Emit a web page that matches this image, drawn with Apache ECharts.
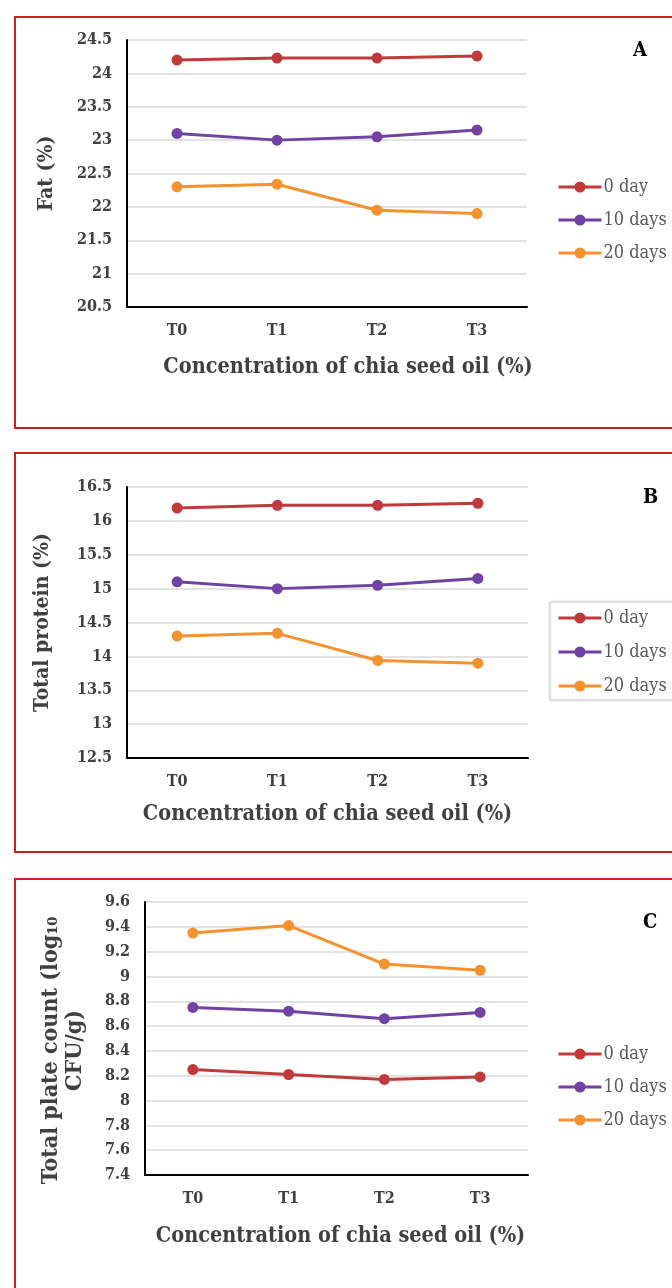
<!DOCTYPE html>
<html>
<head>
<meta charset="utf-8">
<script src="https://cdn.jsdelivr.net/npm/echarts@6/dist/echarts.min.js"></script>
<style>
  html, body { margin: 0; padding: 0; background: #fff; }
  #chart { width: 672px; height: 1288px; }
</style>
</head>
<body>
<div id="chart"></div>
<script>
// categories and legend
const treatments = ["T0", "T1", "T2", "T3"];
const storage = ["0 day", "10 days", "20 days"];

// A - fat (%)
const fat0 = [24.2, 24.23, 24.23, 24.26];
const fat10 = [23.1, 23.0, 23.05, 23.15];
const fat20 = [22.3, 22.34, 21.95, 21.9];

// B - total protein (%)
const protein0 = [16.19, 16.23, 16.23, 16.26];
const protein10 = [15.1, 15.0, 15.05, 15.15];
const protein20 = [14.3, 14.34, 13.94, 13.9];

// C - total plate count (log10 CFU/g)
const tpc0 = [8.25, 8.21, 8.17, 8.19];
const tpc10 = [8.75, 8.72, 8.66, 8.71];
const tpc20 = [9.35, 9.41, 9.1, 9.05];

const colors = ["#c0393b", "#7142a3", "#f3922f"];
const serif = "'DejaVu Serif Condensed', 'Liberation Serif', serif";
const txt = "#404040";

const grids = [
  { left: 127, top: 40, width: 400, height: 267 },
  { left: 127, top: 487, width: 401, height: 271 },
  { left: 145, top: 902, width: 383, height: 273 },
];

const xName = "Concentration of chia seed oil (%)";
const xGaps = [49, 45, 50];
const xNamePad = [[0, 0, 0, 42], [0, 0, 0, 0], [0, 0, 0, 8]];

const xAxes = grids.map((g, i) => ({
  type: "category",
  gridIndex: i,
  data: treatments,
  boundaryGap: true,
  axisLine: { lineStyle: { color: "#000", width: 2 } },
  axisTick: { show: false },
  axisLabel: { margin: 16, fontFamily: serif, fontWeight: "bold", fontSize: 16, color: txt },
  name: xName,
  nameLocation: "middle",
  nameGap: xGaps[i],
  nameTextStyle: { fontFamily: serif, fontWeight: "bold", fontSize: 21.5, color: txt, padding: xNamePad[i] },
}));

const yCommon = {
  type: "value",
  axisLine: { show: true, lineStyle: { color: "#000", width: 2 } },
  axisTick: { show: false },
  splitLine: { lineStyle: { color: "#d9d9d9", width: 1.5 } },
  axisLabel: { margin: 15, fontFamily: serif, fontWeight: "bold", fontSize: 16, color: txt },
  nameLocation: "middle",
  nameRotate: 90,
  nameTextStyle: { fontFamily: serif, fontWeight: "bold", fontSize: 21, color: txt },
};

const yAxes = [
  Object.assign({}, yCommon, { gridIndex: 0, min: 20.5, max: 24.5, interval: 0.5, name: "Fat (%)", nameGap: 70 }),
  Object.assign({}, yCommon, { gridIndex: 1, min: 12.5, max: 16.5, interval: 0.5, name: "Total protein (%)", nameGap: 74 }),
  Object.assign({}, yCommon, {
    gridIndex: 2, min: 7.4, max: 9.6, interval: 0.2, nameGap: 58,
    name: "Total plate count (log\u2081\u2080\nCFU/g)",
    nameTextStyle: {
      fontFamily: serif, fontWeight: "bold", fontSize: 23, color: txt,
      align: "center", lineHeight: 24, padding: [0, 24, 0, 0],
    },
  }),
];

const panelData = [
  [fat0, fat10, fat20],
  [protein0, protein10, protein20],
  [tpc0, tpc10, tpc20],
];

const series = [];
panelData.forEach((sets, i) => {
  sets.forEach((vals, k) => {
    series.push({
      name: storage[k],
      type: "line",
      xAxisIndex: i,
      yAxisIndex: i,
      data: vals,
      symbol: "circle",
      symbolSize: 11,
      lineStyle: { color: colors[k], width: 3 },
      itemStyle: { color: colors[k] },
    });
  });
});

const legendBase = {
  orient: "vertical",
  left: 552,
  itemWidth: 43,
  itemHeight: 14,
  itemGap: 15,
  data: storage,
  lineStyle: { width: 3 },
  textStyle: { fontFamily: serif, fontSize: 18, color: "#595959", padding: [0, 0, 0, -3] },
};

const legends = [
  Object.assign({}, legendBase, { top: 173 }),
  Object.assign({}, legendBase, {
    top: 602, left: 550, itemGap: 16,
    padding: [7, 20, 5, 7],
    borderColor: "#cfcfcf", borderWidth: 1,
    shadowColor: "rgba(0,0,0,0.15)", shadowBlur: 3,
    backgroundColor: "#fff",
  }),
  Object.assign({}, legendBase, { top: 1040 }),
];

const border = (y, h) => ({
  type: "rect",
  shape: { x: 15, y: y, width: 680, height: h },
  style: { fill: "none", stroke: "#d01c1c", lineWidth: 2 },
  silent: true,
});
const letter = (t, x, y) => ({
  type: "text",
  left: x, top: y,
  style: { text: t, fontFamily: serif, fontWeight: "bold", fontSize: 20, fill: "#000" },
});

const chart = echarts.init(document.getElementById("chart"));
chart.setOption({
  backgroundColor: "#fff",
  animation: false,
  grid: grids,
  xAxis: xAxes,
  yAxis: yAxes,
  legend: legends,
  series: series,
  graphic: [
    border(17, 411),
    border(453, 399),
    border(879, 430),
    letter("A", 633, 41),
    letter("B", 643, 488),
    letter("C", 643, 913),
  ],
});
</script>
</body>
</html>
